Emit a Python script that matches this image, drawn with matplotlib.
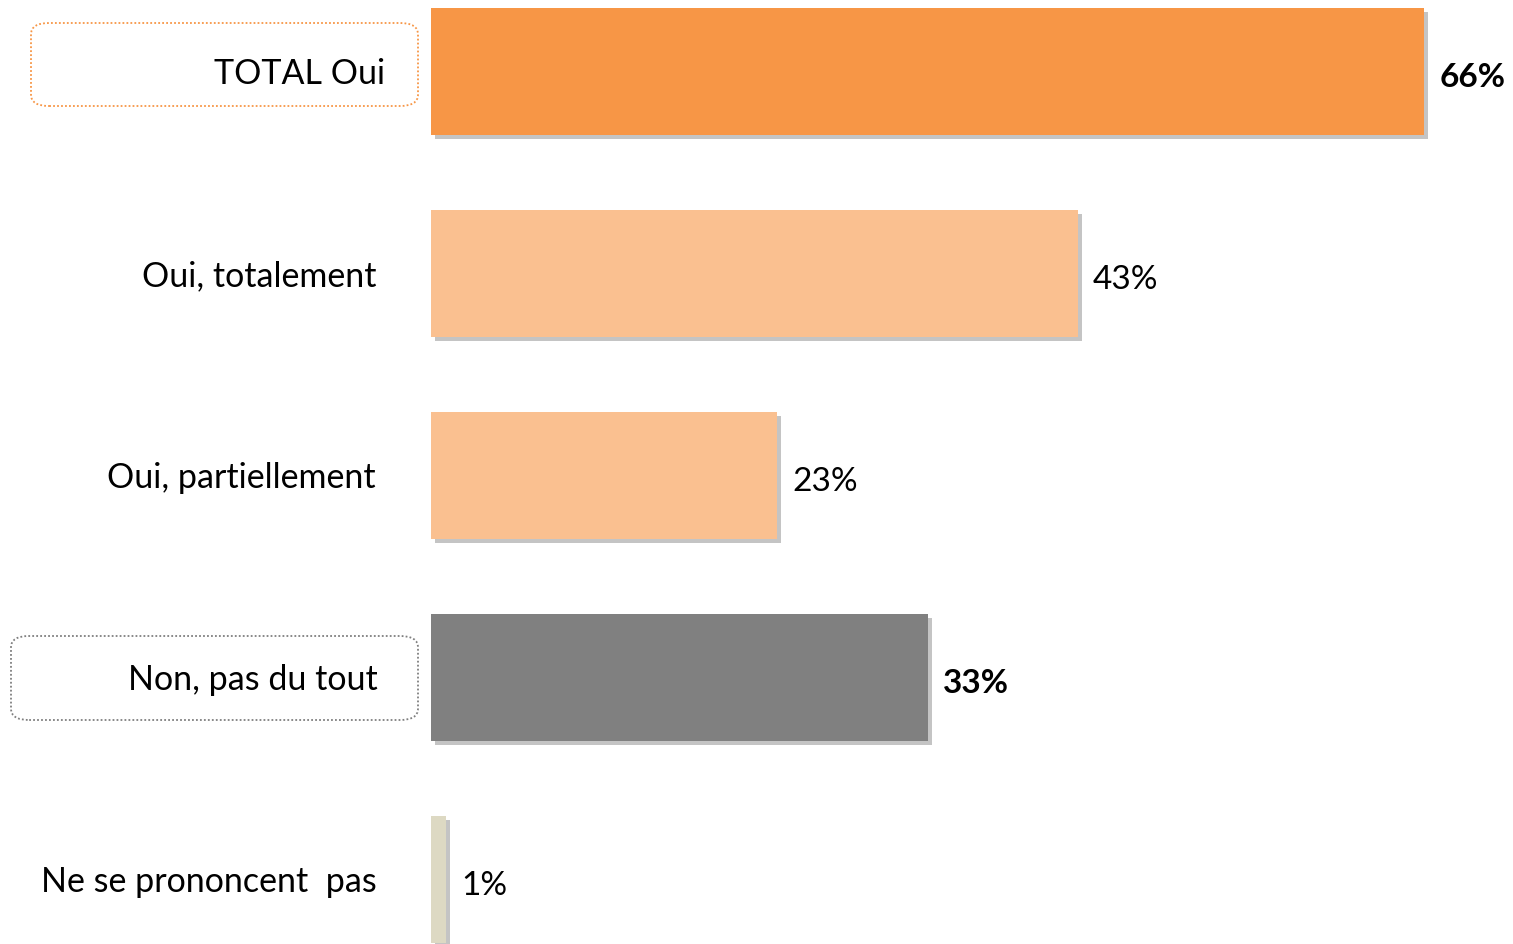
import matplotlib.pyplot as plt
import matplotlib.patheffects as pe
from matplotlib.patches import FancyBboxPatch

plt.rcParams['font.family'] = ['Lato', 'DejaVu Sans']

categories = ['TOTAL Oui', 'Oui, totalement', 'Oui, partiellement', 'Non, pas du tout', 'Ne se prononcent  pas']
values = [66, 43, 23, 33, 1]
colors = ['#F79646', '#FAC090', '#FAC090', '#808080', '#DDD9C3']
bold = [True, False, False, True, False]

W, H = 1513, 945
fig = plt.figure(figsize=(W / 100, H / 100), dpi=100)

# axes from the bars' left edge to the right border
x0 = 431
ax = fig.add_axes([x0 / W, 0, (W - x0) / W, 1])
px_per_pct = 15.05
pitch = 202.0
ax.set_xlim(0, (W - x0) / px_per_pct)
ax.set_ylim((H - 72.5) / pitch, -72.5 / pitch)
ax.axis('off')

shadow = [pe.SimplePatchShadow(offset=(3, -3), shadow_rgbFace='#c4c4c4', alpha=1.0), pe.Normal()]
bars = ax.barh(range(len(values)), values, height=127 / pitch, color=colors, left=0)
for b in bars:
    b.set_path_effects(shadow)
    b.set_clip_on(False)

for i, v in enumerate(values):
    ax.text(v + 15 / px_per_pct, i + 0.025, f'{v}%', va='center', ha='left', fontsize=24,
            fontweight='bold' if bold[i] else 'normal', color='black')

# category labels, right aligned left of the bars
label_right = [385, 377, 376, 378, 377]
for i, lab in enumerate(categories):
    yc = 74 + i * pitch
    fig.text(label_right[i] / W, 1 - yc / H, lab, ha='right', va='center', fontsize=24.5, color='black')

# dotted rounded boxes
boxes = [(31, 24, 418, 107, '#F79646'), (11, 637, 418, 721, '#7F7F7F')]
for l, t, r, btm, c in boxes:
    p = FancyBboxPatch((l / W, 1 - btm / H), (r - l) / W, (btm - t) / H,
                       boxstyle='round,pad=0,rounding_size=0.012', transform=fig.transFigure,
                       facecolor='none', edgecolor=c, linestyle=(0, (1, 1.2)), linewidth=1.3)
    fig.patches.append(p)

fig.savefig('out.png', dpi=100)
